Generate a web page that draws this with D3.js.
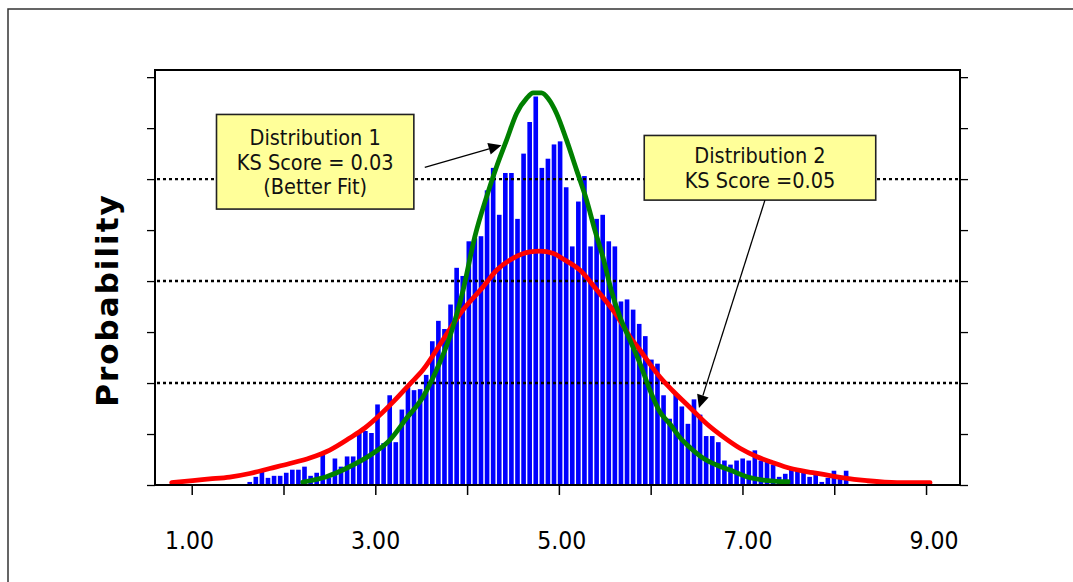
<!DOCTYPE html>
<html>
<head>
<meta charset="utf-8">
<script src="https://cdn.jsdelivr.net/npm/d3@7"></script>
<style>
  html, body { margin: 0; padding: 0; background: #fff; }
  svg { display: block; }
  .lbl { font-family: "DejaVu Sans", "Liberation Sans", sans-serif; font-stretch: condensed; }
</style>
</head>
<body>
<svg id="chart" width="1073" height="582"></svg>
<script>
// ---------------- DATA ----------------
// Histogram bins (bin centres start at binStart, spaced by binWidth)
const binStart = 1.632;
const binWidth = 0.0663;
const barHeights = [
  0.0003, 0.0008, 0.0014, 0.0007, 0.0009, 0.0009, 0.0012, 0.0015, 0.0015, 0.0018,
  0.0009, 0.0012, 0.0030, 0.0007, 0.0026, 0.0018, 0.0028, 0.0028, 0.0052, 0.0053,
  0.0051, 0.0079, 0.0041, 0.0088, 0.0042, 0.0074, 0.0096, 0.0093, 0.0094, 0.0108,
  0.0141, 0.0161, 0.0153, 0.0177, 0.0213, 0.0205, 0.0239, 0.0242, 0.0244, 0.0289,
  0.0311, 0.0265, 0.0306, 0.0306, 0.0261, 0.0325, 0.0356, 0.0381, 0.0311, 0.0320,
  0.0334, 0.0337, 0.0292, 0.0234, 0.0278, 0.0303, 0.0234, 0.0261, 0.0265, 0.0239,
  0.0234, 0.0180, 0.0182, 0.0172, 0.0158, 0.0146, 0.0123, 0.0119, 0.0088, 0.0065,
  0.0090, 0.0077, 0.0060, 0.0084, 0.0069, 0.0048, 0.0048, 0.0042, 0.0024, 0.0020,
  0.0024, 0.0026, 0.0024, 0.0034, 0.0024, 0.0024, 0.0020, 0.0008, 0.0011, 0.0015,
  0.0015, 0.0012, 0.0008, 0.0010, 0.0003, 0.0007, 0.0014, 0.0008, 0.0014
];

// Distribution 1 (green fit)
const dist1X = [2.210, 2.468, 2.686, 2.976, 3.158, 3.340, 3.521, 3.667, 3.812, 3.957,
  4.084, 4.212, 4.321, 4.430, 4.539, 4.648, 4.720, 4.811, 4.883, 4.975,
  5.084, 5.193, 5.302, 5.392, 5.483, 5.567, 5.665, 5.774, 5.883, 5.992,
  6.101, 6.210, 6.319, 6.428, 6.569, 6.719, 6.864, 7.046, 7.227, 7.499];
const dist1Y = [0.00029, 0.00081, 0.00164, 0.00311, 0.00441, 0.00654, 0.00866, 0.01127, 0.01454, 0.01912,
  0.02434, 0.02826, 0.03121, 0.03382, 0.03644, 0.03791, 0.03846, 0.03846, 0.03791, 0.03644,
  0.03382, 0.03088, 0.02794, 0.02500, 0.02225, 0.01922, 0.01650, 0.01422, 0.01193, 0.00931,
  0.00716, 0.00598, 0.00466, 0.00368, 0.00265, 0.00196, 0.00147, 0.00081, 0.00049, 0.00032];

// Distribution 2 (red fit)
const dist2X = [0.782, 1.011, 1.196, 1.414, 1.632, 1.850, 2.068, 2.286, 2.504, 2.722,
  2.886, 3.049, 3.213, 3.376, 3.518, 3.736, 3.954, 4.172, 4.324, 4.499,
  4.684, 4.793, 4.935, 5.065, 5.229, 5.414, 5.643, 5.774, 5.883, 5.992,
  6.101, 6.243, 6.428, 6.613, 6.787, 6.973, 7.158, 7.332, 7.518, 7.768,
  8.063, 8.357, 8.684, 9.044];
const dist2Y = [0.00023, 0.00044, 0.00059, 0.00078, 0.00113, 0.00162, 0.00211, 0.00265, 0.00343, 0.00461,
  0.00559, 0.00686, 0.00833, 0.00990, 0.01127, 0.01422, 0.01716, 0.01941, 0.02108, 0.02223,
  0.02287, 0.02294, 0.02272, 0.02206, 0.02108, 0.01912, 0.01647, 0.01454, 0.01324, 0.01186,
  0.01059, 0.00922, 0.00760, 0.00598, 0.00474, 0.00360, 0.00277, 0.00219, 0.00164, 0.00121,
  0.00075, 0.00042, 0.00023, 0.00023];

// Axis ticks
const xTickValues = [1, 2, 3, 4, 5, 6, 7, 8, 9];
const xLabelValues = [1, 3, 5, 7, 9];
const xTickLabels = ["1.00", "3.00", "5.00", "7.00", "9.00"];
const yTickValues = [0, 0.005, 0.01, 0.015, 0.02, 0.025, 0.03, 0.035, 0.04];
const yGridValues = [0.01, 0.02, 0.03];
const yTitle = "Probability";

// Annotations
const note1Lines = ["Distribution 1", "KS Score = 0.03", "(Better Fit)"];
const note2Lines = ["Distribution 2", "KS Score =0.05"];

// ---------------- CHART ----------------
const svg = d3.select("#chart");
const W = 1073, H = 582;

const x = d3.scaleLinear().domain([0.6, 9.37]).range([155, 960]);
const xLab = d3.scaleLinear().domain([1, 9]).range([189.5, 934]);
const y = d3.scaleLinear().domain([0, 0.0407]).range([485, 70]);

// outer frame (top + left)
svg.append("path")
  .attr("d", `M8,${H} L8,9 L${W},9`)
  .attr("fill", "none").attr("stroke", "#333").attr("stroke-width", 1.5);

const x0 = x.range()[0], x1 = x.range()[1];
const y0 = y.range()[0], y1 = y.range()[1];

// bars
const barW = (x(binWidth) - x(0)) * 0.76;
svg.append("g").selectAll("rect")
  .data(barHeights)
  .join("rect")
  .attr("x", (d, i) => x(binStart + i * binWidth) - barW / 2)
  .attr("y", d => y(d))
  .attr("width", barW)
  .attr("height", d => y(0) - y(d))
  .attr("fill", "#0000ff");

// dotted grid lines
svg.append("g").selectAll("line")
  .data(yGridValues)
  .join("line")
  .attr("x1", x0 + 2).attr("x2", x1 - 1)
  .attr("y1", d => y(d)).attr("y2", d => y(d))
  .attr("stroke", "#000").attr("stroke-width", 2.4)
  .attr("stroke-dasharray", "3,3");

// curves
const line = d3.line().x(d => x(d[0])).y(d => y(d[1])).curve(d3.curveMonotoneX);
const red = dist2X.map((v, i) => [v, dist2Y[i]]);
const green = dist1X.map((v, i) => [v, dist1Y[i]]);
svg.append("path").datum(red).attr("d", line)
  .attr("fill", "none").attr("stroke", "#ff0000").attr("stroke-width", 4.8)
  .attr("stroke-linejoin", "round").attr("stroke-linecap", "round");
svg.append("path").datum(green).attr("d", line)
  .attr("fill", "none").attr("stroke", "#008000").attr("stroke-width", 4.8)
  .attr("stroke-linejoin", "round").attr("stroke-linecap", "round");

// plot box
svg.append("rect")
  .attr("x", x0).attr("y", y1).attr("width", x1 - x0).attr("height", y0 - y1)
  .attr("fill", "none").attr("stroke", "#000").attr("stroke-width", 2);

// y ticks left & right
const yl = d3.axisLeft(y).tickValues(yTickValues).tickSize(8).tickFormat("");
const yr = d3.axisRight(y).tickValues(yTickValues).tickSize(8).tickFormat("");
const gl = svg.append("g").attr("transform", `translate(${x0},0)`).call(yl);
const gr = svg.append("g").attr("transform", `translate(${x1},0)`).call(yr);
[gl, gr].forEach(g => {
  g.select(".domain").remove();
  g.selectAll(".tick line").attr("stroke", "#000").attr("stroke-width", 1.3);
});

// x ticks
const xa = d3.axisBottom(x).tickValues(xTickValues).tickSize(9).tickFormat("");
const gx = svg.append("g").attr("transform", `translate(0,${y0 + 1})`).call(xa);
gx.select(".domain").remove();
gx.selectAll(".tick line").attr("stroke", "#000").attr("stroke-width", 1.5);

// x labels
svg.append("g").selectAll("text")
  .data(xLabelValues)
  .join("text")
  .attr("class", "lbl")
  .attr("x", d => xLab(d)).attr("y", 549)
  .attr("text-anchor", "middle")
  .attr("font-size", 24.5)
  .attr("fill", "#000")
  .text((d, i) => xTickLabels[i]);

// y title
svg.append("text")
  .attr("transform", `translate(118,300) rotate(-90)`)
  .attr("text-anchor", "middle")
  .attr("font-family", "DejaVu Sans, Verdana, sans-serif")
  .attr("font-weight", "bold")
  .attr("font-size", 31)
  .attr("letter-spacing", 2)
  .attr("fill", "#000")
  .text(yTitle);

// annotations
function note(lines, vx0, vx1, py0, py1, baseProbs) {
  const g = svg.append("g");
  g.append("rect")
    .attr("x", x(vx0)).attr("y", y(py0))
    .attr("width", x(vx1) - x(vx0)).attr("height", y(py1) - y(py0))
    .attr("fill", "#ffff99").attr("stroke", "#222").attr("stroke-width", 1.6);
  g.selectAll("text").data(lines).join("text")
    .attr("class", "lbl")
    .attr("x", (x(vx0) + x(vx1)) / 2)
    .attr("y", (d, i) => y(baseProbs[i]))
    .attr("text-anchor", "middle")
    .attr("font-size", 21.5)
    .attr("fill", "#111")
    .text(d => d);
}
function arrow(vxa, pya, vxb, pyb) {
  const ax = x(vxa), ay = y(pya), bx = x(vxb), by = y(pyb);
  const ang = Math.atan2(by - ay, bx - ax);
  const L = 13, Wd = 6;
  const baseX = bx - L * Math.cos(ang), baseY = by - L * Math.sin(ang);
  svg.append("line")
    .attr("x1", ax).attr("y1", ay).attr("x2", baseX).attr("y2", baseY)
    .attr("stroke", "#000").attr("stroke-width", 1.3);
  const px = -Math.sin(ang) * Wd, py = Math.cos(ang) * Wd;
  svg.append("path")
    .attr("d", `M${bx},${by} L${baseX + px},${baseY + py} L${baseX - px},${baseY - py} Z`)
    .attr("fill", "#000");
}

note(note1Lines, 1.27, 3.42, 0.03634, 0.02706, [0.03333, 0.03088, 0.02853]);
arrow(3.539, 0.03115, 4.375, 0.03333);
note(note2Lines, 5.930, 8.452, 0.03428, 0.02794, [0.03154, 0.02915]);
arrow(7.245, 0.02794, 6.526, 0.00755);
</script>
</body>
</html>
